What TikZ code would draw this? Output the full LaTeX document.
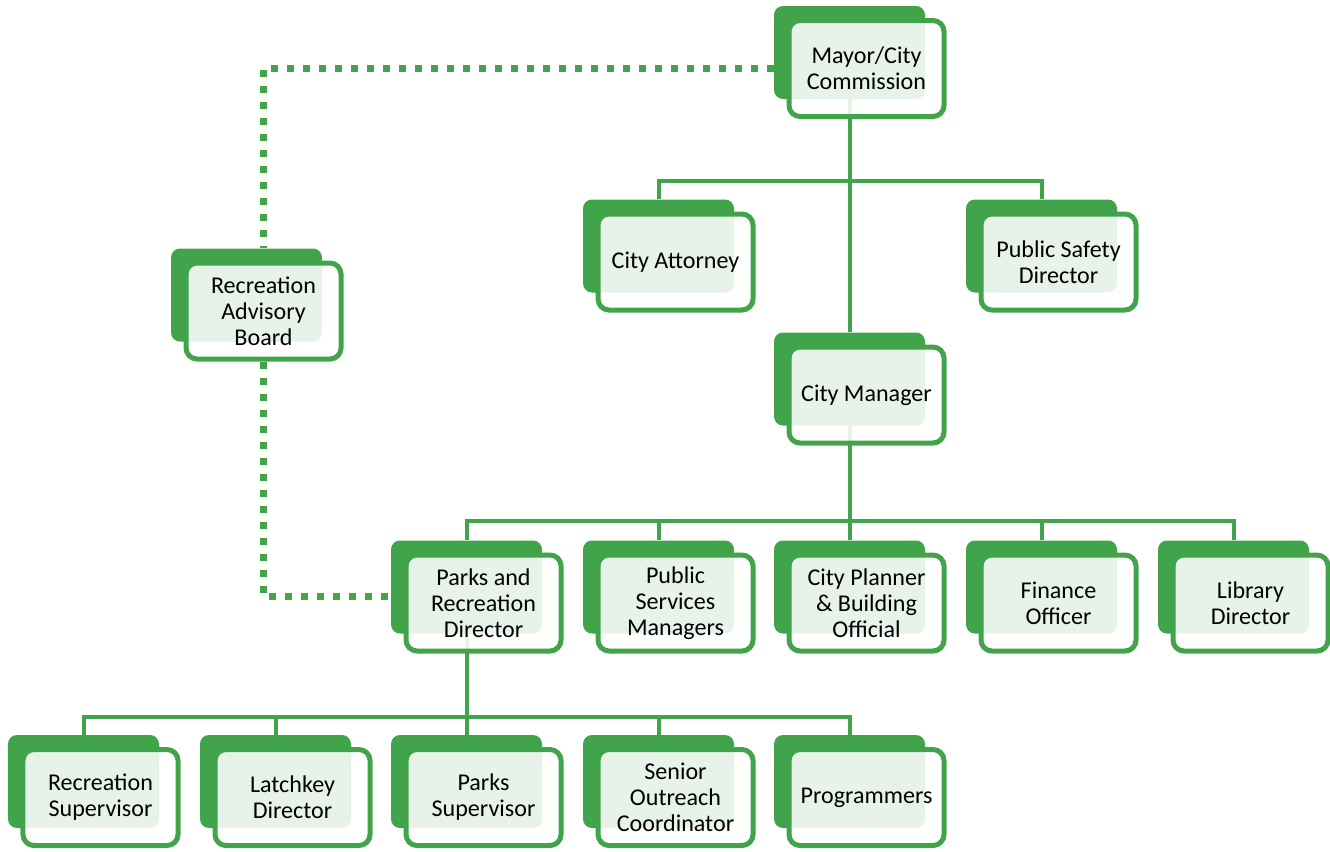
\documentclass[tikz,border=0pt]{standalone}
\usepackage{fontspec}
\setmainfont{Carlito}
\usepackage{tikz}
\usetikzlibrary{positioning, calc, backgrounds}
\definecolor{orggreen}{HTML}{41A44B}

\begin{document}
\begin{tikzpicture}[x=0.2mm, y=-0.2mm,
    card/.style={rectangle, rounded corners=2.2mm, draw=orggreen, line width=1mm, fill=white, fill opacity=0.88, text opacity=1, minimum width=31mm, minimum height=19.2mm, inner sep=1pt, font=\fontsize{13.7}{14.8}\selectfont, align=center},
    cardback/.style={rectangle, rounded corners=1.8mm, fill=orggreen, minimum width=30.2mm, minimum height=18.6mm, inner sep=0pt},
    link/.style={draw=orggreen, line width=0.8mm},
    advisory/.style={draw=orggreen, line width=1.4mm, dash pattern=on 1.4mm off 1.8mm}
]
\useasboundingbox (0,0) rectangle (1330,851);

% top of the chart
\node[card] (mayor) at (866.5,68.5) {Mayor/City\\Commission};
\node[card] (attorney) at (675.5,262) {City Attorney};
\node[card] (safety) at (1058.5,262) {Public Safety\\Director};
\node[card] (advisory) at (263.5,311) {Recreation\\Advisory\\Board};
\node[card] (manager) at (866.5,395) {City Manager};

% departments
\node[card] (parks) at (483.5,603) {Parks and\\Recreation\\Director};
\node[card] (services) at (675.5,603) {Public\\Services\\Managers};
\node[card] (planner) at (866.5,603) {City Planner\\\& Building\\Official};
\node[card] (finance) at (1058.5,603) {Finance\\Officer};
\node[card] (library) at (1250.5,603) {Library\\Director};

% parks and recreation staff
\node[card] (recsup) at (100.5,797.5) {Recreation\\Supervisor};
\node[card] (latchkey) at (292.5,797.5) {Latchkey\\Director};
\node[card] (parkssup) at (483.5,797.5) {Parks\\Supervisor};
\node[card] (senior) at (675.5,797.5) {Senior\\Outreach\\Coordinator};
\node[card] (programmers) at (866.5,797.5) {Programmers};

\begin{scope}[on background layer]
\foreach \n in {mayor,attorney,safety,advisory,manager,parks,services,planner,finance,library,recsup,latchkey,parkssup,senior,programmers}
    \node[cardback] (\n-b) at ($(\n)+(-17,-16)$) {};

\draw[link] (mayor-b.south) -- (manager-b.north);
\draw[link] (attorney-b.north) -- ++(0,-18) -| (safety-b.north);

\draw[link] (manager-b.south) -- (planner-b.north);
\draw[link] (parks-b.north) -- ++(0,-19) -| (library-b.north);
\draw[link] (services-b.north) -- ++(0,-19);
\draw[link] (finance-b.north) -- ++(0,-19);

\draw[link] (parks-b.south) -- (parkssup-b.north);
\draw[link] (recsup-b.north) -- ++(0,-18) -| (programmers-b.north);
\draw[link] (latchkey-b.north) -- ++(0,-18);
\draw[link] (senior-b.north) -- ++(0,-18);

% advisory board links
\draw[advisory] (mayor-b.west |- mayor.center) -| (advisory.north |- advisory-b.north);
\draw[advisory] (advisory.south) |- ($(parks-b.west)+(0,9)$);
\end{scope}

\end{tikzpicture}
\end{document}
